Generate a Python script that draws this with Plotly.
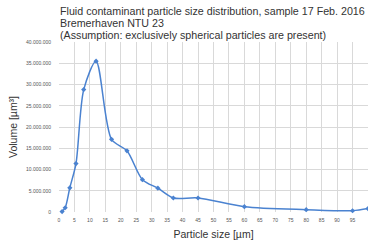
import plotly.graph_objects as go

sizes = [1, 2, 3.5, 5.5, 8, 12, 17, 22, 27, 32, 37, 45, 60, 80, 95, 100]
volumes = [100000, 1000000, 5700000, 11400000, 28800000, 35500000, 17100000,
           14400000, 7600000, 5600000, 3300000, 3300000, 1250000, 550000, 300000, 800000]

x_ticks = list(range(0, 101, 5))
y_ticks = list(range(0, 40000001, 5000000))

title_lines = ["Fluid contaminant particle size distribution, sample 17 Feb. 2016",
               "Bremerhaven NTU 23",
               "(Assumption: exclusively spherical particles are present)"]

fig = go.Figure()
fig.add_trace(go.Scatter(
    x=sizes, y=volumes, mode="lines+markers",
    line=dict(color="#4a82d0", width=1.5, shape="spline", smoothing=0.8),
    marker=dict(symbol="diamond", size=4, color="#4a82d0"),
    showlegend=False, cliponaxis=False,
))

for line, ypos in zip(title_lines, [1.185, 1.113, 1.041]):
    fig.add_annotation(
        text=line, xref="paper", yref="paper", x=0, y=ypos,
        xanchor="left", yanchor="middle", align="left", showarrow=False,
        xshift=-1, font=dict(size=10.7, color="#333333"),
    )

fig.update_layout(
    width=368, height=247,
    margin=dict(l=59, r=0, t=42, b=35, autoexpand=False),
    paper_bgcolor="white", plot_bgcolor="white",
    separators=",.",
    font=dict(family="Liberation Sans, Arial, sans-serif", color="#333333"),
    xaxis=dict(
        range=[0, 100], tickvals=x_ticks, ticktext=[str(v) for v in x_ticks],
        showgrid=True, gridcolor="#d9d9d9", gridwidth=1,
        zeroline=False, showline=False, automargin=False,
        tickfont=dict(size=5, color="#555555"),
        ticks="outside", ticklen=3, tickcolor="rgba(0,0,0,0)",
        title=dict(text="Particle size [µm]", font=dict(size=10.5, color="#333333"), standoff=8),
    ),
    yaxis=dict(
        range=[0, 40000000], tickvals=y_ticks, tickformat=",d",
        showgrid=True, gridcolor="#d9d9d9", gridwidth=1,
        zeroline=False, showline=False, automargin=False,
        tickfont=dict(size=5, color="#555555"),
        ticks="outside", ticklen=6, tickcolor="rgba(0,0,0,0)",
        title=dict(text="Volume [µm³]", font=dict(size=10.5, color="#333333"), standoff=6),
    ),
)

fig.write_html("out.html", config={"displayModeBar": False},
               post_script="document.body.style.margin='0';")
